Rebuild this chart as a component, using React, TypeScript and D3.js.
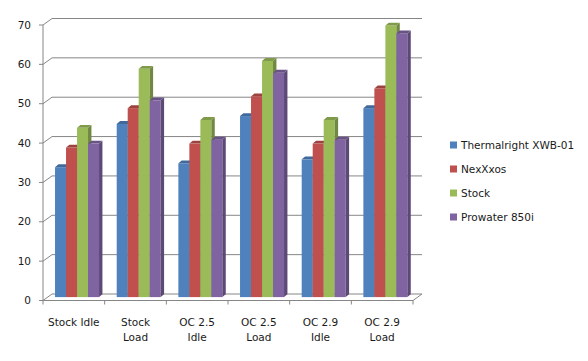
import React from 'react';
import * as d3 from 'd3';

const categories = ['Stock Idle', 'Stock Load', 'OC 2.5 Idle', 'OC 2.5 Load', 'OC 2.9 Idle', 'OC 2.9 Load'];
const categoryLines = [['Stock Idle'], ['Stock', 'Load'], ['OC 2.5', 'Idle'], ['OC 2.5', 'Load'], ['OC 2.9', 'Idle'], ['OC 2.9', 'Load']];
const seriesNames = ['Thermalright XWB-01', 'NexXxos', 'Stock', 'Prowater 850i'];
const seriesColors = ['#4F81BD', '#C0504D', '#9BBB59', '#8064A2'];
const thermalright = [33, 44, 34, 46, 35, 48];
const nexxxos = [38, 48, 39, 51, 39, 53];
const stock = [43, 58, 45, 60, 45, 69];
const prowater = [39, 50, 40, 57, 40, 67];
const yTicks = [0, 10, 20, 30, 40, 50, 60, 70];

const seriesValues = [thermalright, nexxxos, stock, prowater];

const width = 588;
const height = 361;
const left = 43;
const right = 413;
const floorY = 300.5;
const topY = 25;
// depth of the plot box (front -> back wall)
const depth = { dx: 9, dy: -6.5 };
// bars sit a little behind the front edge
const barShift = { dx: 3.2, dy: -3.4 };
const barDepth = { dx: 3.4, dy: -2.9 };
const font = 'Tahoma, "DejaVu Sans", sans-serif';
const fontSize = 10.5;
const textColor = '#1a1a1a';
const gridColor = '#868686';

export default function App() {
  const x = d3.scaleBand<string>().domain(categories).range([left, right]);
  const y = d3.scaleLinear().domain([0, 70]).range([floorY, topY]);
  const inner = d3
    .scaleBand<string>()
    .domain(seriesNames)
    .range([-22, 22]);

  const bars: JSX.Element[] = [];
  categories.forEach((cat, ci) => {
    const cx = (x(cat) as number) + x.bandwidth() / 2 + barShift.dx;
    seriesNames.forEach((name, si) => {
      const v = seriesValues[si][ci];
      const x0 = cx + (inner(name) as number);
      const x1 = x0 + inner.bandwidth();
      const yb = y(0) + barShift.dy;
      const yt = y(v) + barShift.dy;
      const c = d3.color(seriesColors[si])!;
      const side = c.darker(0.9).toString();
      const top = c.darker(0.55).toString();
      const { dx, dy } = barDepth;
      bars.push(
        <g key={`${ci}-${si}`}>
          <rect x={x0} y={yt} width={x1 - x0} height={yb - yt} fill={seriesColors[si]} />
          <polygon
            points={`${x1},${yt} ${x1 + dx},${yt + dy} ${x1 + dx},${yb + dy} ${x1},${yb}`}
            fill={side}
          />
          <polygon
            points={`${x0},${yt} ${x0 + dx},${yt + dy} ${x1 + dx},${yt + dy} ${x1},${yt}`}
            fill={top}
          />
        </g>
      );
    });
  });

  return (
    <svg
      width={width}
      height={height}
      style={{ position: 'absolute', left: 0, top: 0, background: 'white' }}
      fontFamily={font}
    >
      {/* back wall gridlines + left wall diagonals */}
      {yTicks.map((t) => (
        <g key={t} stroke={gridColor} strokeWidth={1} fill="none">
          {t > 0 && (
            <line x1={left + depth.dx} x2={right + depth.dx} y1={y(t) + depth.dy} y2={y(t) + depth.dy} />
          )}
          <line x1={left} y1={y(t)} x2={left + depth.dx} y2={y(t) + depth.dy} />
          <line x1={left - 4} y1={y(t)} x2={left} y2={y(t)} />
        </g>
      ))}
      {/* floor */}
      <g stroke={gridColor} fill="none">
        <line x1={left + depth.dx} x2={right + depth.dx} y1={floorY + depth.dy} y2={floorY + depth.dy} />
        <line x1={right} y1={floorY} x2={right + depth.dx} y2={floorY + depth.dy} />
      </g>
      {bars}
      {/* front axes */}
      <g stroke={gridColor} fill="none">
        <line x1={left} x2={left} y1={topY} y2={floorY} />
        <line x1={left} x2={right} y1={floorY} y2={floorY} />
        {categories.concat(['']).map((c, i) => {
          const xx = left + i * x.bandwidth();
          return <line key={i} x1={xx} x2={xx} y1={floorY} y2={floorY + 4} />;
        })}
      </g>
      {yTicks.map((t) => (
        <text key={t} x={31} y={y(t)} dy="0.35em" textAnchor="end" fontSize={fontSize} fill={textColor}>
          {t}
        </text>
      ))}
      {categories.map((cat, ci) => (
        <text
          key={cat}
          x={(x(cat) as number) + x.bandwidth() / 2}
          y={322}
          dy="0.35em"
          textAnchor="middle"
          fontSize={fontSize}
          fill={textColor}
        >
          {categoryLines[ci].map((ln, li) => (
            <tspan key={li} x={(x(cat) as number) + x.bandwidth() / 2} dy={li === 0 ? '0.35em' : 15}>
              {ln}
            </tspan>
          ))}
        </text>
      ))}
      {/* legend */}
      {seriesNames.map((name, si) => (
        <g key={name} transform={`translate(450, ${145 + si * 24})`}>
          <rect x={0} y={-3.5} width={7} height={7} fill={seriesColors[si]} />
          <text x={11} y={0} dy="0.35em" fontSize={fontSize} fill={textColor}>
            {name}
          </text>
        </g>
      ))}
    </svg>
  );
}
